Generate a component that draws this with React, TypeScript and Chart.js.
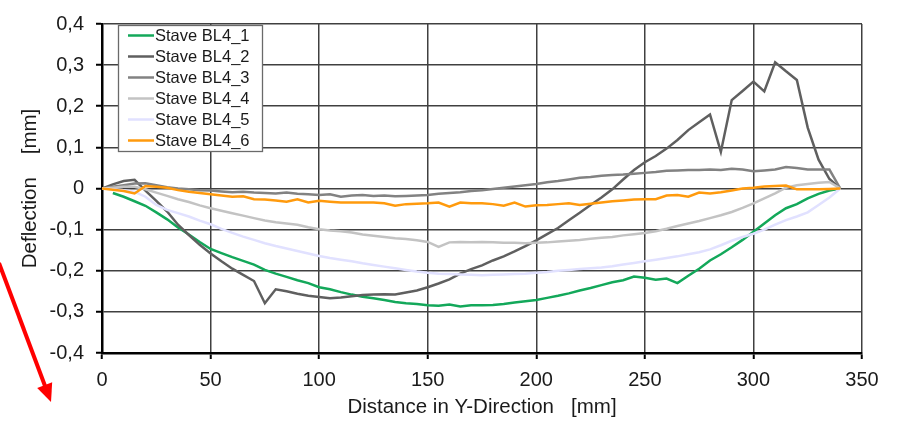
import React, { useEffect, useRef } from "react";
import { Chart, registerables } from "chart.js";

Chart.register(...registerables);

const distances = [
  0, 5, 10, 15, 20, 25, 30, 35, 40, 45, 50, 55, 60, 65, 70, 75, 80, 85, 90, 95,
  100, 105, 110, 115, 120, 125, 130, 135, 140, 145, 150, 155, 160, 165, 170, 175,
  180, 185, 190, 195, 200, 205, 210, 215, 220, 225, 230, 235, 240, 245, 250, 255,
  260, 265, 270, 275, 280, 285, 290, 295, 300, 305, 310, 315, 320, 325, 330, 335, 340,
];

const seriesLabels = [
  "Stave BL4_1",
  "Stave BL4_2",
  "Stave BL4_3",
  "Stave BL4_4",
  "Stave BL4_5",
  "Stave BL4_6",
];

const bl4_1 = [
  null, -0.011, -0.02, -0.031, -0.042, -0.058, -0.075, -0.095, -0.112, -0.13,
  -0.147, -0.157, -0.167, -0.176, -0.185, -0.198, -0.207, -0.215, -0.223, -0.23,
  -0.24, -0.245, -0.252, -0.258, -0.263, -0.267, -0.271, -0.276, -0.279, -0.281,
  -0.284, -0.285, -0.282, -0.287, -0.284, -0.284, -0.283, -0.281, -0.277, -0.274,
  -0.271, -0.266, -0.261, -0.255, -0.248, -0.242, -0.235, -0.228, -0.223, -0.214,
  -0.217, -0.222, -0.219, -0.23, -0.212, -0.195, -0.175, -0.16, -0.143, -0.125,
  -0.105, -0.085, -0.065, -0.048, -0.038, -0.024, -0.013, -0.005, 0,
];

const bl4_2 = [
  0, 0.01, 0.018, 0.021, -0.005, -0.03, -0.056, -0.088, -0.113, -0.137,
  -0.158, -0.177, -0.195, -0.21, -0.225, -0.279, -0.245, -0.25, -0.256, -0.261,
  -0.264, -0.267, -0.265, -0.262, -0.259, -0.258, -0.257, -0.258, -0.253, -0.248,
  -0.24, -0.231, -0.221, -0.207, -0.196, -0.187, -0.175, -0.165, -0.153, -0.14,
  -0.126, -0.111, -0.096, -0.077, -0.059, -0.04, -0.022, -0.002, 0.022, 0.045,
  0.064, 0.079, 0.097, 0.118, 0.142, 0.161, 0.18, 0.089, 0.215, 0.237,
  0.26, 0.236, 0.307, 0.285, 0.264, 0.148, 0.07, 0.023, 0,
];

const bl4_3 = [
  0, 0.004, 0.008, 0.012, 0.013, 0.008, 0.003, 0, -0.002, -0.004,
  -0.005, -0.007, -0.009, -0.008, -0.01, -0.011, -0.012, -0.01, -0.013, -0.014,
  -0.016, -0.014, -0.02, -0.017, -0.016, -0.018, -0.017, -0.019, -0.018, -0.017,
  -0.016, -0.013, -0.011, -0.009, -0.006, -0.004, -0.001, 0.002, 0.005, 0.008,
  0.011, 0.015, 0.018, 0.022, 0.026, 0.028, 0.031, 0.033, 0.034, 0.036,
  0.038, 0.04, 0.043, 0.044, 0.045, 0.045, 0.046, 0.045, 0.048, 0.046,
  0.042, 0.044, 0.046, 0.052, 0.05, 0.046, 0.046, 0.046, 0,
];

const bl4_4 = [
  0, 0.002, 0.004, 0.004, -0.002, -0.01, -0.018, -0.026, -0.033, -0.041,
  -0.048, -0.054, -0.06, -0.066, -0.072, -0.078, -0.082, -0.085, -0.088, -0.094,
  -0.099, -0.102, -0.104, -0.107, -0.112, -0.115, -0.118, -0.121, -0.123, -0.126,
  -0.13, -0.142, -0.131, -0.13, -0.131, -0.13, -0.131, -0.132, -0.132, -0.133,
  -0.132, -0.131, -0.129, -0.127, -0.125, -0.122, -0.12, -0.118, -0.114, -0.111,
  -0.108, -0.104, -0.098, -0.091, -0.085, -0.079, -0.072, -0.065, -0.057, -0.047,
  -0.036, -0.024, -0.012, 0.002, 0.008, 0.011, 0.014, 0.016, 0,
];

const bl4_5 = [
  0, -0.002, -0.004, -0.008, -0.02, -0.04, -0.052, -0.06, -0.068, -0.078,
  -0.087, -0.098, -0.108, -0.117, -0.125, -0.133, -0.14, -0.146, -0.152, -0.158,
  -0.164, -0.169, -0.173, -0.177, -0.182, -0.186, -0.19, -0.194, -0.198, -0.202,
  -0.205, -0.207, -0.208, -0.209, -0.21, -0.211, -0.21, -0.209, -0.208, -0.207,
  -0.205, -0.203, -0.2, -0.198, -0.196, -0.194, -0.192, -0.189, -0.185, -0.181,
  -0.177, -0.173, -0.169, -0.165, -0.16, -0.155, -0.148, -0.138, -0.127, -0.118,
  -0.11, -0.1, -0.088, -0.077, -0.068, -0.058, -0.04, -0.022, 0,
];

const bl4_6 = [
  0, -0.003, -0.006, -0.012, 0.006, 0.004, 0.002, -0.004, -0.008, -0.011,
  -0.014, -0.017, -0.02, -0.019, -0.026, -0.027, -0.029, -0.032, -0.026, -0.034,
  -0.03, -0.032, -0.034, -0.034, -0.034, -0.034, -0.036, -0.042, -0.038, -0.037,
  -0.036, -0.034, -0.044, -0.034, -0.036, -0.036, -0.038, -0.042, -0.034, -0.044,
  -0.041, -0.04, -0.038, -0.036, -0.04, -0.037, -0.034, -0.031, -0.029, -0.027,
  -0.026, -0.026, -0.017, -0.016, -0.02, -0.01, -0.012, -0.009, -0.005, 0,
  0.002, 0.005, 0.006, 0.007, -0.002, -0.002, -0.002, -0.001, 0,
];

const seriesValues = [bl4_1, bl4_2, bl4_3, bl4_4, bl4_5, bl4_6];
const seriesColors = ["#13a85a", "#5f5f5f", "#828282", "#c3c3c3", "#e1e1ff", "#ff9a0d"];

const xTitle = "Distance in Y-Direction   [mm]";
const yTitle = "Deflection    [mm]";

const FONT = "'Liberation Sans', Arial, Helvetica, sans-serif";

const boxLegend = {
  id: "boxLegend",
  afterDatasetsDraw(chart: any) {
    const ctx = chart.ctx;
    ctx.save();
    const bx = 118, by = 25, bw = 144, bh = 126;
    ctx.fillStyle = "#ffffff";
    ctx.fillRect(bx, by, bw, bh);
    ctx.strokeStyle = "#6a6a6a";
    ctx.lineWidth = 1.3;
    ctx.strokeRect(bx + 0.5, by + 0.5, bw, bh);
    ctx.font = `16.5px ${FONT}`;
    ctx.textBaseline = "middle";
    ctx.textAlign = "left";
    chart.data.datasets.forEach((ds: any, i: number) => {
      const ry = by + 10.5 + i * 21;
      ctx.strokeStyle = ds.borderColor;
      ctx.lineWidth = 2.5;
      ctx.beginPath();
      ctx.moveTo(bx + 10, ry);
      ctx.lineTo(bx + 36, ry);
      ctx.stroke();
      ctx.fillStyle = "#1a1a1a";
      ctx.fillText(ds.label, bx + 37, ry + 1);
    });
    ctx.restore();
  },
};

const redArrow = {
  id: "redArrow",
  afterDraw(chart: any) {
    const ctx = chart.ctx;
    ctx.save();
    const sx = -1, sy = 263, tx = 51, ty = 402;
    const dx = tx - sx, dy = ty - sy;
    const len = Math.hypot(dx, dy);
    const ux = dx / len, uy = dy / len;
    const headLen = 18, headHalf = 8;
    const bxp = tx - ux * headLen, byp = ty - uy * headLen;
    ctx.strokeStyle = "#ff0000";
    ctx.fillStyle = "#ff0000";
    ctx.lineWidth = 4;
    ctx.beginPath();
    ctx.moveTo(sx, sy);
    ctx.lineTo(bxp + ux * 2, byp + uy * 2);
    ctx.stroke();
    ctx.beginPath();
    ctx.moveTo(tx, ty);
    ctx.lineTo(bxp + uy * headHalf, byp - ux * headHalf);
    ctx.lineTo(bxp - uy * headHalf, byp + ux * headHalf);
    ctx.closePath();
    ctx.fill();
    ctx.restore();
  },
};

function fmtY(v: number) {
  if (Math.abs(v) < 1e-9) return "0";
  return v.toFixed(1).replace(".", ",");
}

export default function App() {
  const ref = useRef<HTMLCanvasElement | null>(null);

  useEffect(() => {
    if (!ref.current) return;
    document.body.style.margin = "0";
    const datasets = seriesValues.map((vals, i) => ({
      label: seriesLabels[i],
      data: distances.map((d, j) => ({ x: d, y: vals[j] })),
      borderColor: seriesColors[i],
      backgroundColor: seriesColors[i],
      borderWidth: 2.5,
      pointRadius: 0,
      tension: 0,
      fill: false,
      order: seriesValues.length - i,
    }));
    const tickFont = { family: FONT, size: 20 };
    const titleFont = { family: FONT, size: 20.5 };
    const chart = new Chart(ref.current, {
      type: "line",
      data: { datasets },
      options: {
        animation: false,
        responsive: false,
        devicePixelRatio: 1,
        layout: { padding: { left: 0, top: 13, right: 40, bottom: 0 } },
        plugins: {
          legend: { display: false },
          tooltip: { enabled: false },
        },
        scales: {
          x: {
            type: "linear",
            min: 0,
            max: 350,
            ticks: { stepSize: 50, font: tickFont, color: "#1a1a1a", padding: 9, maxRotation: 0 },
            grid: { color: "#404040", lineWidth: 1.5, tickLength: 6, tickColor: "#000", tickWidth: 2 },
            border: { color: "#000", width: 2.5 },
            title: {
              display: true,
              text: xTitle,
              font: titleFont,
              color: "#1a1a1a",
              padding: { top: 0, bottom: 3 },
            },
            afterFit: (s: any) => {
              s.height = 70;
            },
          },
          y: {
            type: "linear",
            min: -0.4,
            max: 0.4,
            ticks: { stepSize: 0.1, font: tickFont, color: "#1a1a1a", padding: 12, callback: (v: any) => fmtY(Number(v)) },
            grid: { color: "#404040", lineWidth: 1.5, tickLength: 6, tickColor: "#000", tickWidth: 2 },
            border: { color: "#000", width: 2.5 },
            title: {
              display: true,
              text: yTitle,
              font: titleFont,
              color: "#1a1a1a",
              padding: { top: 18, bottom: 0 },
            },
            afterFit: (s: any) => {
              s.width = 102;
            },
          },
        },
      },
      plugins: [boxLegend, redArrow],
    });
    return () => chart.destroy();
  }, []);

  return (
    <div style={{ position: "absolute", left: 0, top: 0, width: 902, height: 423, background: "#fff" }}>
      <canvas ref={ref} width={902} height={423} style={{ display: "block" }} />
    </div>
  );
}
